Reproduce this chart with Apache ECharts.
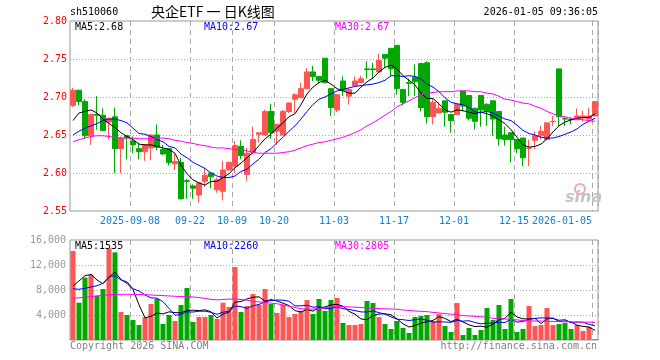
<!DOCTYPE html>
<html><head><meta charset="utf-8">
<script src="https://cdn.jsdelivr.net/npm/echarts@6/dist/echarts.min.js"></script>
<style>html,body{margin:0;padding:0;background:#fff}#c{width:660px;height:360px}</style>
</head><body><div id="c"></div>
<script>
const dates = [
'2025-08-25','2025-08-26','2025-08-27','2025-08-28','2025-08-29',
'2025-09-01','2025-09-02','2025-09-03','2025-09-04','2025-09-05',
'2025-09-08','2025-09-09','2025-09-10','2025-09-11','2025-09-12',
'2025-09-15','2025-09-16','2025-09-17','2025-09-18','2025-09-19',
'2025-09-22','2025-09-23','2025-09-24','2025-09-25','2025-09-26',
'2025-09-29','2025-09-30','2025-10-09','2025-10-10',
'2025-10-13','2025-10-14','2025-10-15','2025-10-16','2025-10-17',
'2025-10-20','2025-10-21','2025-10-22','2025-10-23','2025-10-24',
'2025-10-27','2025-10-28','2025-10-29','2025-10-30','2025-10-31',
'2025-11-03','2025-11-04','2025-11-05','2025-11-06','2025-11-07',
'2025-11-10','2025-11-11','2025-11-12','2025-11-13','2025-11-14',
'2025-11-17','2025-11-18','2025-11-19','2025-11-20','2025-11-21',
'2025-11-24','2025-11-25','2025-11-26','2025-11-27','2025-11-28',
'2025-12-01','2025-12-02','2025-12-03','2025-12-04','2025-12-05',
'2025-12-08','2025-12-09','2025-12-10','2025-12-11','2025-12-12',
'2025-12-15','2025-12-16','2025-12-17','2025-12-18','2025-12-19',
'2025-12-22','2025-12-23','2025-12-24','2025-12-25','2025-12-26',
'2025-12-29','2025-12-30','2025-12-31','2026-01-05'];

const opens = [
2.689,2.709,2.694,2.649,2.677,2.676,2.667,2.674,2.632,2.649,
2.642,2.632,2.628,2.633,2.650,2.631,2.632,2.612,2.614,2.590,
2.583,2.571,2.589,2.600,2.578,2.576,2.604,2.609,2.635,2.598,
2.627,2.651,2.650,2.681,2.655,2.650,2.681,2.697,2.699,2.711,
2.733,2.727,2.751,2.711,2.683,2.721,2.701,2.715,2.719,2.737,
2.737,2.733,2.756,2.764,2.768,2.710,2.719,2.726,2.744,2.745,
2.674,2.679,2.695,2.677,2.677,2.708,2.702,2.685,2.702,2.690,
2.695,2.681,2.650,2.653,2.644,2.646,2.6325,2.643,2.649,2.644,
2.6675,2.737,2.6715,2.6705,2.670,2.6725,2.671,2.675];
const closes = [
2.709,2.694,2.649,2.677,2.676,2.656,2.672,2.632,2.646,2.646,
2.637,2.628,2.637,2.650,2.634,2.625,2.614,2.615,2.566,2.589,
2.580,2.587,2.597,2.595,2.591,2.604,2.614,2.636,2.623,2.626,
2.644,2.653,2.681,2.653,2.664,2.681,2.692,2.703,2.711,2.733,
2.727,2.722,2.719,2.686,2.703,2.709,2.710,2.721,2.724,2.736,
2.736,2.748,2.751,2.737,2.711,2.693,2.718,2.720,2.686,2.674,
2.693,2.685,2.680,2.669,2.690,2.688,2.672,2.668,2.683,2.681,
2.671,2.645,2.644,2.644,2.632,2.620,2.633,2.649,2.655,2.666,
2.668,2.674,2.671,2.670,2.675,2.675,2.675,2.694];
const lows = [
2.687,2.689,2.645,2.637,2.657,2.656,2.644,2.600,2.600,2.618,
2.626,2.618,2.616,2.617,2.630,2.624,2.610,2.604,2.565,2.566,
2.566,2.561,2.582,2.580,2.574,2.564,2.603,2.600,2.618,2.589,
2.626,2.640,2.650,2.645,2.637,2.650,2.679,2.679,2.699,2.711,
2.721,2.718,2.718,2.675,2.680,2.701,2.690,2.715,2.719,2.724,
2.724,2.732,2.738,2.727,2.703,2.689,2.701,2.701,2.681,2.665,
2.664,2.679,2.661,2.653,2.677,2.681,2.669,2.657,2.661,2.662,
2.649,2.636,2.636,2.614,2.626,2.609,2.609,2.631,2.644,2.644,
2.662,2.661,2.662,2.664,2.670,2.668,2.671,2.675];
const highs = [
2.712,2.709,2.697,2.678,2.701,2.685,2.673,2.686,2.648,2.649,
2.648,2.640,2.638,2.651,2.664,2.637,2.632,2.625,2.620,2.592,
2.585,2.587,2.607,2.600,2.594,2.616,2.615,2.642,2.643,2.633,
2.661,2.653,2.683,2.691,2.664,2.683,2.693,2.705,2.719,2.738,
2.741,2.727,2.751,2.711,2.703,2.727,2.712,2.727,2.728,2.747,
2.745,2.757,2.756,2.764,2.768,2.710,2.724,2.743,2.744,2.747,
2.697,2.693,2.695,2.677,2.692,2.708,2.702,2.686,2.702,2.692,
2.695,2.681,2.661,2.653,2.644,2.646,2.644,2.655,2.662,2.666,
2.675,2.737,2.674,2.673,2.685,2.682,2.686,2.694];

const volumes = [
14240,5973,9973,10400,7093,8160,14667,14027,4480,4000,
3200,2400,3627,5760,6560,2560,4000,3040,5600,8320,
2880,3680,3680,4000,3360,5973,5280,11680,4480,5440,
7360,5600,8160,5760,4320,5600,3680,4160,4640,6400,
4160,6560,4640,6400,6720,2720,2400,2400,2560,6240,
5920,3680,2560,1760,3040,1920,1120,3680,3840,4000,
3040,4160,2240,1280,5920,800,1920,800,1600,5120,
3200,5600,1760,6560,1280,1760,5440,2240,2400,5120,
2400,2560,2720,1760,2400,1440,2080,160];

const ma5 = [
2.669,2.679,2.681,2.683,2.679,2.671,2.665,2.660,2.653,2.648,
2.644,2.638,2.637,2.637,2.635,2.633,2.631,2.626,2.610,2.599,
2.591,2.587,2.584,2.589,2.589,2.594,2.599,2.607,2.613,2.620,
2.627,2.636,2.645,2.651,2.659,2.666,2.674,2.678,2.690,2.704,
2.713,2.719,2.722,2.717,2.711,2.708,2.705,2.705,2.713,2.720,
2.725,2.733,2.739,2.742,2.737,2.728,2.722,2.716,2.705,2.698,
2.698,2.691,2.683,2.680,2.683,2.682,2.680,2.678,2.680,2.678,
2.675,2.670,2.665,2.657,2.647,2.637,2.634,2.635,2.638,2.645,
2.654,2.662,2.667,2.670,2.672,2.673,2.673,2.678];
const ma10 = [
2.650,2.655,2.659,2.662,2.665,2.669,2.671,2.671,2.669,2.666,
2.659,2.652,2.651,2.648,2.644,2.641,2.635,2.633,2.625,2.620,
2.614,2.610,2.606,2.600,2.596,2.594,2.594,2.596,2.602,2.605,
2.612,2.618,2.627,2.632,2.640,2.647,2.655,2.662,2.671,2.681,
2.690,2.697,2.700,2.704,2.708,2.710,2.712,2.714,2.715,2.716,
2.717,2.719,2.722,2.728,2.728,2.727,2.728,2.727,2.724,2.717,
2.713,2.707,2.699,2.693,2.691,2.690,2.686,2.680,2.680,2.681,
2.679,2.675,2.671,2.669,2.663,2.656,2.652,2.650,2.647,2.646,
2.646,2.648,2.651,2.654,2.658,2.664,2.668,2.672];
const ma30 = [
2.641,2.644,2.646,2.648,2.649,2.649,2.648,2.647,2.646,2.646,
2.646,2.645,2.645,2.645,2.646,2.646,2.645,2.643,2.642,2.640,
2.639,2.637,2.636,2.634,2.633,2.633,2.632,2.631,2.631,2.629,
2.627,2.626,2.626,2.626,2.626,2.627,2.628,2.630,2.633,2.636,
2.638,2.640,2.641,2.643,2.645,2.647,2.650,2.653,2.657,2.662,
2.666,2.671,2.676,2.681,2.687,2.691,2.695,2.699,2.703,2.705,
2.706,2.707,2.707,2.707,2.708,2.708,2.708,2.707,2.707,2.705,
2.704,2.701,2.697,2.696,2.694,2.692,2.691,2.688,2.685,2.681,
2.678,2.675,2.674,2.672,2.671,2.670,2.669,2.668];

const vma5 = [
8640,9440,10290,10500,9600,9000,10059,10869,9685,9067,
8075,5621,3541,3797,4309,4181,4501,4384,4352,4704,
4768,4704,4832,4512,3520,4139,4459,6059,6155,6571,
6848,6912,6208,6464,6240,5888,5504,4704,4480,4896,
4608,5184,5280,5632,5696,5408,4576,4128,3360,3264,
3904,4160,4192,4032,3392,2592,2080,2304,2720,2912,
3136,3744,3456,2944,3328,2880,2432,2144,2208,2048,
2528,3264,3456,4448,3680,3392,3360,3456,2624,3392,
3520,2944,3040,2912,2368,2176,2080,1535];
const vma10 = [
8210,8110,8270,8480,8690,9070,10130,10290,9600,9302,
8198,7840,7205,6741,6688,6128,5061,3963,4075,4507,
4475,4603,4608,4432,4112,4454,4582,5446,5334,5046,
5494,5686,6134,6310,6406,6368,6208,5456,5472,5568,
5248,5344,4992,5056,5296,5008,4880,4704,4496,4480,
4656,4368,4160,3696,3328,3248,3120,3248,3376,3152,
2864,2912,2880,2832,3120,3008,3088,2800,2576,2688,
2704,2848,2800,3328,2864,2960,3312,3456,3536,3536,
3456,3152,3248,2768,2880,2848,2512,2260];
const vma30 = [
6680,6760,6850,6930,7050,7150,7230,7290,7310,7310,
7300,7280,7250,7200,7150,7100,7050,7000,6950,6920,
6880,6800,6650,6500,6420,6480,6540,6560,6480,6380,
6200,6100,6000,5900,5800,5620,5400,5200,5000,4920,
4950,5060,5150,5300,5350,5330,5300,5250,5200,5130,
5070,5030,4990,4960,4930,4800,4720,4640,4590,4540,
4420,4330,4230,4130,4040,3900,3850,3780,3720,3640,
3470,3400,3360,3300,3220,3100,3060,3040,3030,3000,
2960,2930,2920,2900,2870,2830,2880,2805];

const tickDates  = ['2025-09-08','2025-09-22','2025-10-09','2025-10-20','2025-11-03','2025-11-17','2025-12-01','2025-12-15','2026-01-05'];
const tickLabels = ['2025-09-08','09-22','10-09','10-20','11-03','11-17','12-01','12-15','2026-01-05'];
const priceAxis = {min: 2.55, max: 2.80, step: 0.05};
const volAxis = {min: 0, max: 16000, step: 4000};
const stockCode = 'sh510060';
const chartTitle = '央企ETF 一 日K线图';
const stamp = '2026-01-05 09:36:05';

const RED = '#ff5555', GREEN = '#00a800';
const MONO = '"DejaVu Sans Mono","Liberation Mono",monospace';
const GRIDC = '#a8a8a8';

const isTick = (idx, val) => tickDates.indexOf(val) >= 0;

const chart = echarts.init(document.getElementById('c'), null, {renderer: 'canvas'});
const xBase = {
  type: 'category', data: dates, boundaryGap: true,
  axisLine: {show: false}, axisTick: {show: false},
  splitLine: {show: true, interval: isTick, lineStyle: {color: GRIDC, width: 1, type: [5, 4]}}
};
const yBase = {
  axisLine: {show: false}, axisTick: {show: false},
  splitLine: {show: true, showMinLine: false, showMaxLine: false, lineStyle: {color: GRIDC, width: 1, type: [1, 2]}}
};
const lineS = (name, data, color, xi, yi) => ({
  type: 'line', name, data, xAxisIndex: xi, yAxisIndex: yi, symbol: 'none', smooth: false,
  lineStyle: {color, width: 1}, itemStyle: {color}, z: 5, silent: true
});
const last = a => a[a.length - 1];

chart.setOption({
  animation: false,
  backgroundColor: '#ffffff',
  grid: [
    {left: 70, top: 21, width: 528, height: 190, show: true, borderColor: '#999', borderWidth: 1, backgroundColor: 'transparent'},
    {left: 70, top: 240, width: 528, height: 100, show: true, borderColor: '#999', borderWidth: 1, backgroundColor: 'transparent'}
  ],
  xAxis: [
    Object.assign({}, xBase, {gridIndex: 0,
      axisLabel: {show: true, interval: isTick, margin: 5, color: '#1080d0', fontFamily: MONO, fontSize: 10,
        formatter: (val) => {
          const k = tickDates.indexOf(val);
          if (k < 0) return '';
          return (k === tickDates.length - 1 ? '{e|' : '{n|') + tickLabels[k] + '}';
        },
        rich: {
          n: {padding: [0, 6, 0, 0], color: '#1080d0', fontFamily: MONO, fontSize: 10},
          e: {padding: [0, 66, 0, 0], color: '#1080d0', fontFamily: MONO, fontSize: 10}
        }
      }}),
    Object.assign({}, xBase, {gridIndex: 1, axisLabel: {show: false}})
  ],
  yAxis: [
    Object.assign({}, yBase, {gridIndex: 0, type: 'value', min: priceAxis.min, max: priceAxis.max, interval: priceAxis.step,
      axisLabel: {color: '#ff0000', fontFamily: MONO, fontSize: 10, margin: 3, formatter: v => v.toFixed(2)}}),
    Object.assign({}, yBase, {gridIndex: 1, type: 'value', min: volAxis.min, max: volAxis.max, interval: volAxis.step,
      axisLabel: {color: '#999', fontFamily: MONO, fontSize: 10, margin: 4, showMinLabel: false}})
  ],
  series: [
    {type: 'candlestick', xAxisIndex: 0, yAxisIndex: 0, barWidth: 5,
     data: dates.map((d, i) => [opens[i], closes[i], lows[i], highs[i]]),
     itemStyle: {color: RED, color0: GREEN, borderColor: RED, borderColor0: GREEN, borderWidth: 1}, z: 3},
    lineS('MA5', ma5, '#000000', 0, 0),
    lineS('MA10', ma10, '#0000ff', 0, 0),
    lineS('MA30', ma30, '#ff00ff', 0, 0),
    {type: 'bar', xAxisIndex: 1, yAxisIndex: 1, barWidth: 5, z: 3,
     data: volumes.map((v, i) => ({value: v, itemStyle: {color: closes[i] >= opens[i] ? RED : GREEN}}))},
    lineS('VMA5', vma5, '#000000', 1, 1),
    lineS('VMA10', vma10, '#0000ff', 1, 1),
    lineS('VMA30', vma30, '#ff00ff', 1, 1)
  ],
  graphic: [
    {type: 'text', x: 70, y: 12, style: {text: stockCode, fill: '#000', font: '10px ' + MONO, align: 'left', verticalAlign: 'middle'}},
    {type: 'text', x: 151, y: 12, style: {text: chartTitle, fill: '#000', font: '14px "Noto Sans CJK SC", sans-serif', align: 'left', verticalAlign: 'middle'}},
    {type: 'text', x: 598, y: 12, style: {text: stamp, fill: '#000', font: '10px ' + MONO, align: 'right', verticalAlign: 'middle'}},
    {type: 'text', x: 75, y: 27, z: 10, style: {text: 'MA5:' + last(ma5).toFixed(2), fill: '#000', font: '10px ' + MONO, align: 'left', verticalAlign: 'middle'}},
    {type: 'text', x: 204, y: 27, z: 10, style: {text: 'MA10:' + last(ma10).toFixed(2), fill: '#0000ff', font: '10px ' + MONO, align: 'left', verticalAlign: 'middle'}},
    {type: 'text', x: 335, y: 27, z: 10, style: {text: 'MA30:' + last(ma30).toFixed(2), fill: '#ff00ff', font: '10px ' + MONO, align: 'left', verticalAlign: 'middle'}},
    {type: 'text', x: 75, y: 246, z: 10, style: {text: 'MA5:' + last(vma5), fill: '#000', font: '10px ' + MONO, align: 'left', verticalAlign: 'middle'}},
    {type: 'text', x: 204, y: 246, z: 10, style: {text: 'MA10:' + last(vma10), fill: '#0000ff', font: '10px ' + MONO, align: 'left', verticalAlign: 'middle'}},
    {type: 'text', x: 335, y: 246, z: 10, style: {text: 'MA30:' + last(vma30), fill: '#ff00ff', font: '10px ' + MONO, align: 'left', verticalAlign: 'middle'}},
    {type: 'text', x: 70, y: 346, style: {text: 'Copyright 2026 SINA.COM', fill: '#808080', font: '10px ' + MONO, align: 'left', verticalAlign: 'middle'}},
    {type: 'text', x: 597, y: 346, style: {text: 'http://finance.sina.com.cn', fill: '#808080', font: '10px ' + MONO, align: 'right', verticalAlign: 'middle'}},
    {type: 'circle', shape: {cx: 580, cy: 189, r: 5}, z: 1, style: {fill: 'none', stroke: '#f2a8a8', lineWidth: 2}},
    {type: 'text', x: 565, y: 198, z: 1, style: {text: 'sina', fill: '#c4c4c4', font: 'italic bold 16px "DejaVu Sans", sans-serif', align: 'left', verticalAlign: 'middle'}}
  ]
});
</script>
</body></html>
